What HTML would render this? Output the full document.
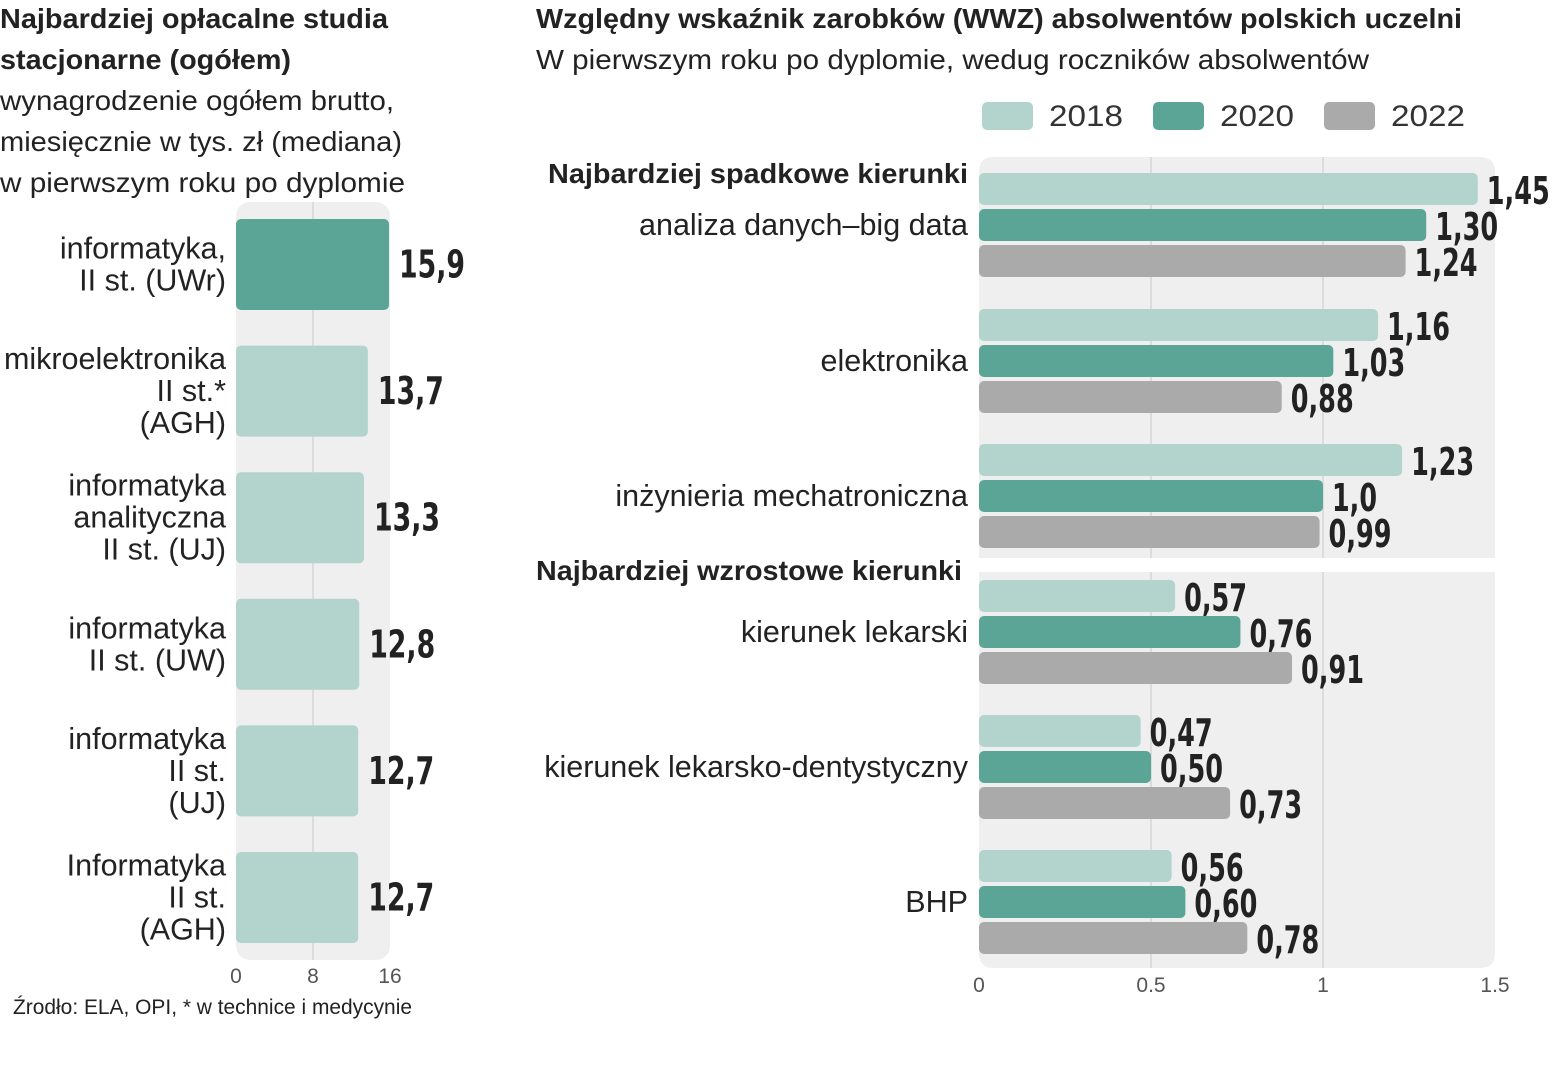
<!DOCTYPE html>
<html><head><meta charset="utf-8">
<style>
html,body{margin:0;padding:0;background:#fff;}
svg{display:block;font-family:"Liberation Sans","DejaVu Sans",sans-serif;}
.t{fill:#222;}
.v{font-family:"Liberation Sans Narrow","DejaVu Sans Condensed","Liberation Sans",sans-serif;font-weight:bold;fill:#222;}
</style></head>
<body>
<svg id="c" width="1555" height="1080" viewBox="0 0 1555 1080" xmlns="http://www.w3.org/2000/svg">
<g>
<text class="t" x="0" y="28" font-size="28" font-weight="bold" textLength="388" lengthAdjust="spacingAndGlyphs">Najbardziej opłacalne studia</text>
<text class="t" x="0" y="69" font-size="28" font-weight="bold" textLength="291" lengthAdjust="spacingAndGlyphs">stacjonarne (ogółem)</text>
<text class="t" x="0" y="110" font-size="28" fill="#333" textLength="394" lengthAdjust="spacingAndGlyphs">wynagrodzenie ogółem brutto,</text>
<text class="t" x="0" y="151" font-size="28" textLength="402" lengthAdjust="spacingAndGlyphs">miesięcznie w tys. zł (mediana)</text>
<text class="t" x="0" y="192" font-size="28" textLength="405" lengthAdjust="spacingAndGlyphs">w pierwszym roku po dyplomie</text>
</g>
<g>
<text class="t" x="536" y="28" font-size="28" font-weight="bold" textLength="926" lengthAdjust="spacingAndGlyphs">Względny wskaźnik zarobków (WWZ) absolwentów polskich uczelni</text>
<text class="t" x="536" y="69" font-size="28" textLength="833" lengthAdjust="spacingAndGlyphs">W pierwszym roku po dyplomie, wedug roczników absolwentów</text>
</g>
<g id="left"></g>
<g id="right"></g>
<text class="t" x="13" y="1014" font-size="21" fill="#444" textLength="399" lengthAdjust="spacingAndGlyphs">Źrodło: ELA, OPI, * w technice i medycynie</text>
</svg>
<script>
const leftCats = [["informatyka,","II st. (UWr)"],["mikroelektronika","II st.*","(AGH)"],["informatyka","analityczna","II st. (UJ)"],["informatyka","II st. (UW)"],["informatyka","II st.","(UJ)"],["Informatyka","II st.","(AGH)"]];
const leftValues = [15.9,13.7,13.3,12.8,12.7,12.7];
const leftLabels = ["15,9","13,7","13,3","12,8","12,7","12,7"];
const leftTicks = [0,8,16];

const rightCats = ["analiza danych–big data","elektronika","inżynieria mechatroniczna","kierunek lekarski","kierunek lekarsko-dentystyczny","BHP"];
const years = ["2018","2020","2022"];
const v2018 = [1.45,1.16,1.23,0.57,0.47,0.56];
const v2020 = [1.30,1.03,1.0,0.76,0.50,0.60];
const v2022 = [1.24,0.88,0.99,0.91,0.73,0.78];
const l2018 = ["1,45","1,16","1,23","0,57","0,47","0,56"];
const l2020 = ["1,30","1,03","1,0","0,76","0,50","0,60"];
const l2022 = ["1,24","0,88","0,99","0,91","0,73","0,78"];
const rightTicks = [0,0.5,1,1.5];
const rightTickLabels = ["0","0.5","1","1.5"];

const NS="http://www.w3.org/2000/svg";
function mk(parent,tag,attrs,text){const e=document.createElementNS(NS,tag);for(const k in attrs)e.setAttribute(k,attrs[k]);if(text!==undefined)e.textContent=text;parent.appendChild(e);return e;}
function vlen(s){let w=0;for(const ch of s)w+=(ch===','?9:18);return w;}
const colors=["#b2d4cd","#5ba597","#aaaaaa"];

// Left chart
const L=document.getElementById('left');
const lx=v=>236+v*(390-236)/16;
const bg=mk(L,'rect',{x:236,y:202,width:154,height:758,rx:14,fill:'#efefef'});


const gl=mk(L,'line',{x1:lx(8),x2:lx(8),y1:202,y2:960,stroke:'#dcdcdc','stroke-width':2});


leftValues.forEach((v,i)=>{
  const y=219+i*126.6, h=91, cy=y+h/2;
  const r=mk(L,'rect',{x:lx(0),y:y,width:lx(v)-lx(0),height:h,rx:5,fill:i===0?colors[1]:colors[0]});
  
  
  const t=mk(L,'text',{x:lx(v)+10,y:cy+13,'font-size':38,class:'v',textLength:vlen(leftLabels[i])+3,lengthAdjust:'spacingAndGlyphs'},leftLabels[i]);
  
  
  const lines=leftCats[i];
  lines.forEach((ln,j)=>{
    const ly=cy+10+(j-(lines.length-1)/2)*32;
    const c=mk(L,'text',{x:226,y:ly,'font-size':30.5,'text-anchor':'end',class:'t'},ln);
    
    
  });
});
leftTicks.forEach(t=>{
  const e=mk(L,'text',{x:lx(t),y:983,'font-size':21,'text-anchor':'middle',fill:'#555'},String(t));
  
  
});

// Right chart
const R=document.getElementById('right');
const rx=v=>979+v*(1495-979)/1.5;
const p1=mk(R,'path',{d:'M979,558 V172 Q979,157 994,157 H1480 Q1495,157 1495,172 V558 Z',fill:'#efefef'});


const p2=mk(R,'path',{d:'M979,572 H1495 V953 Q1495,968 1480,968 H994 Q979,968 979,953 Z',fill:'#efefef'});


[0.5,1].forEach(t=>{
  [[157,558],[572,968]].forEach(s=>{
    const g=mk(R,'line',{x1:rx(t),x2:rx(t),y1:s[0],y2:s[1],stroke:'#dcdcdc','stroke-width':2});
    
    
  });
});
const h1=mk(R,'text',{x:968,y:183,'font-size':28,'font-weight':'bold','text-anchor':'end',class:'t',textLength:420,lengthAdjust:'spacingAndGlyphs'},'Najbardziej spadkowe kierunki');


const h2=mk(R,'text',{x:536,y:580,'font-size':28,'font-weight':'bold',class:'t',textLength:426,lengthAdjust:'spacingAndGlyphs'},'Najbardziej wzrostowe kierunki');


const series=[v2018,v2020,v2022], slabels=[l2018,l2020,l2022];
const groupY=[173,309,444,580,715,850];
rightCats.forEach((cat,i)=>{
  series.forEach((s,k)=>{
    const y=groupY[i]+k*36;
    const b=mk(R,'rect',{x:rx(0),y:y,width:rx(s[i])-rx(0),height:32,rx:5,fill:colors[k]});
    
    
    const t=mk(R,'text',{x:rx(s[i])+9,y:y+31,'font-size':38,class:'v',textLength:vlen(slabels[k][i]),lengthAdjust:'spacingAndGlyphs'},slabels[k][i]);
    
    
  });
  const c=mk(R,'text',{x:968,y:groupY[i]+62,'font-size':30.5,'text-anchor':'end',class:'t'},cat);
  
  
});
rightTicks.forEach((t,i)=>{
  const e=mk(R,'text',{x:rx(t),y:992,'font-size':21,'text-anchor':'middle',fill:'#555'},rightTickLabels[i]);
  
  
});
const legX=[982,1153,1324];
years.forEach((yr,k)=>{
  const s=mk(R,'rect',{x:legX[k],y:102,width:51,height:28,rx:5,fill:colors[k]});
  
  
  const t=mk(R,'text',{x:legX[k]+67,y:126,'font-size':30,fill:'#333',textLength:74,lengthAdjust:'spacingAndGlyphs'},yr);
  
  
});
</script>
</body></html>
